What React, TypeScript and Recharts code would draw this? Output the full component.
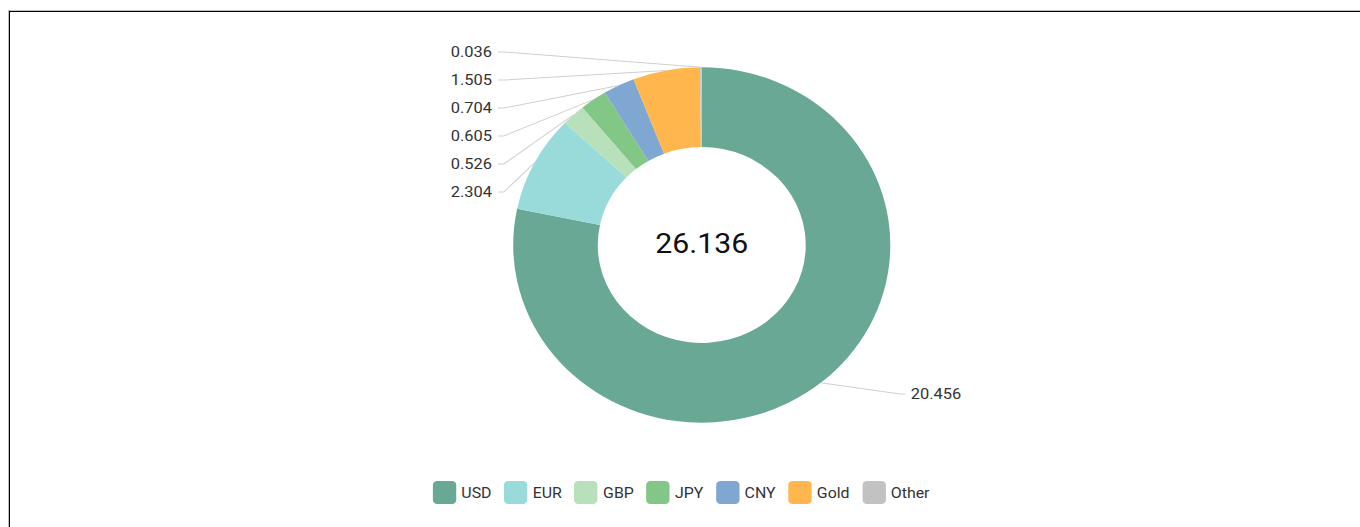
import React from "react";
import { PieChart, Pie, Cell } from "recharts";

const categories = ["USD", "EUR", "GBP", "JPY", "CNY", "Gold", "Other"];
const amounts = [20.456, 2.304, 0.526, 0.605, 0.704, 1.505, 0.036];
const colors = ["#68a894", "#99dbdb", "#b7e0bb", "#83c786", "#80a6d2", "#ffb74d", "#c2c2c2"];
const totalLabel = "26.136";

const data = categories.map((name, i) => ({ name, value: amounts[i] }));

// the reference was shot slightly stretched sideways
const STRETCH = 1.061;
const W = 1282;
const H = 527;
const CX = 661.4;
const CY = 245;
const RAD = Math.PI / 180;

const FONT = "Roboto, 'Noto Sans', sans-serif";

const renderLabel = (props: any) => {
  const { cx, cy, midAngle, outerRadius, index, value } = props;
  const px = cx + outerRadius * Math.cos(-midAngle * RAD);
  const py = cy + outerRadius * Math.sin(-midAngle * RAD);
  let bx: number, ex: number, tx: number, ly: number, anchor: "start" | "end";
  if (index === 0) {
    ly = cy + 149;
    bx = cx + 187;
    ex = cx + 192;
    tx = cx + 197;
    anchor = "start";
  } else {
    ly = cy - 53 - (index - 1) * 28;
    bx = cx - 186.5;
    ex = cx - 192;
    tx = cx - 197.7;
    anchor = "end";
  }
  return (
    <g key={`lbl-${index}`}>
      <polyline
        points={`${px},${py} ${bx},${ly} ${ex},${ly}`}
        fill="none"
        stroke="#cfcfcf"
        strokeWidth={1}
      />
      <text
        x={tx}
        y={ly}
        textAnchor={anchor}
        dominantBaseline="central"
        fill="#333"
        fontSize={15.5}
        fontFamily={FONT}
      >
        {value.toFixed(3)}
      </text>
    </g>
  );
};

export default function App() {
  return (
    <div style={{ position: "absolute", left: 0, top: 0, width: 1360, height: 527, overflow: "hidden", background: "#fff" }}>
      <div
        style={{
          position: "absolute",
          left: 9,
          top: 11,
          width: 1420,
          height: 600,
          border: "1px solid #000",
          boxShadow: "0 0 0 1px rgba(0,0,0,0.25)",
        }}
      />
      <div
        style={{
          position: "absolute",
          left: 0,
          top: 0,
          width: W,
          height: H,
          transform: `scaleX(${STRETCH})`,
          transformOrigin: "0 0",
        }}
      >
        <PieChart width={W} height={H} margin={{ top: 0, right: 0, bottom: 0, left: 0 }}>
          <Pie
            data={data}
            dataKey="value"
            nameKey="name"
            cx={CX}
            cy={CY}
            innerRadius={98}
            outerRadius={177.7}
            startAngle={90}
            endAngle={-270}
            stroke="none"
            label={renderLabel}
            labelLine={false}
            isAnimationActive={false}
          >
            {data.map((d, i) => (
              <Cell key={d.name} fill={colors[i]} />
            ))}
          </Pie>
          <text
            x={CX}
            y={CY - 2}
            textAnchor="middle"
            dominantBaseline="central"
            fontSize={28.5}
            fontFamily={FONT}
            fill="#111"
          >
            {totalLabel}
          </text>
        </PieChart>
        <div
          style={{
            position: "absolute",
            left: 407.8,
            top: 481,
            display: "flex",
            alignItems: "center",
            gap: 11.8,
            fontFamily: FONT,
            fontSize: 15,
            color: "#333",
          }}
        >
          {categories.map((name, i) => (
            <div key={name} style={{ display: "flex", alignItems: "center", gap: 5 }}>
              <span
                style={{
                  display: "inline-block",
                  width: 22,
                  height: 23,
                  borderRadius: 4,
                  background: colors[i],
                }}
              />
              <span>{name}</span>
            </div>
          ))}
        </div>
      </div>
    </div>
  );
}
